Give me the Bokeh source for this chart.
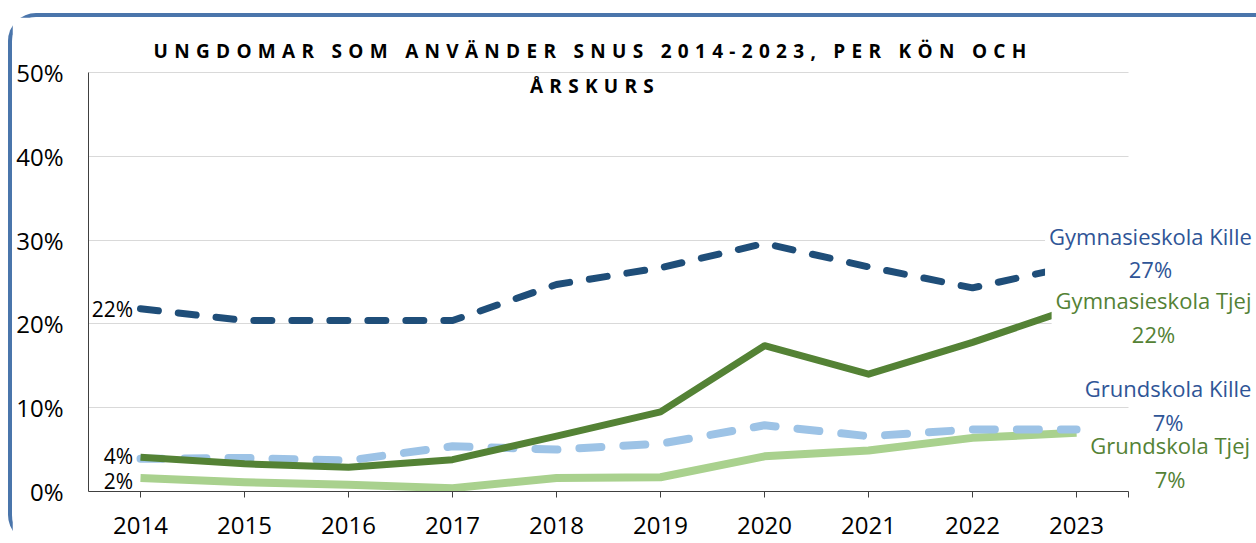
from bokeh.plotting import figure
from bokeh.embed import file_html
from bokeh.resources import INLINE
from bokeh.layouts import column
from bokeh.models import Range1d, FixedTicker, PrintfTickFormatter, Label, BoxAnnotation

years = ["2014", "2015", "2016", "2017", "2018", "2019", "2020", "2021", "2022", "2023"]
gym_kille = [21.8, 20.4, 20.4, 20.4, 24.7, 26.7, 29.6, 26.8, 24.3, 27.0]
gym_tjej = [4.1, 3.3, 2.9, 3.8, 6.6, 9.5, 17.4, 14.0, 17.8, 22.0]
grund_kille = [3.9, 4.0, 3.7, 5.4, 5.0, 5.7, 7.9, 6.6, 7.4, 7.4]
grund_tjej = [1.6, 1.1, 0.8, 0.4, 1.6, 1.7, 4.2, 4.9, 6.4, 7.0]
y_ticks = [0, 10, 20, 30, 40, 50]
title_lines = ["UNGDOMAR SOM ANVÄNDER SNUS 2014-2023, PER KÖN OCH", "ÅRSKURS"]

xs = list(range(len(years)))
FONT = "Open Sans"
W, H = 1244, 526

p = figure(width=W, height=H, x_range=Range1d(-0.5, 10.73), y_range=Range1d(0, 56.56),
           output_backend="svg", toolbar_location=None,
           min_border_left=76, min_border_right=0, min_border_top=0, min_border_bottom=52)
p.outline_line_color = None
p.background_fill_color = "white"
p.border_fill_color = "white"

# axes
p.xaxis.ticker = FixedTicker(ticks=xs + [9.5])
p.xaxis.major_label_overrides = {**{i: y for i, y in enumerate(years)}, 9.5: ""}
p.xaxis.bounds = (-0.5, 9.5)
p.xaxis.major_label_text_font = FONT
p.xaxis.major_label_text_font_size = "24px"
p.xaxis.major_label_text_color = "black"
p.xaxis.major_tick_out = 6
p.xaxis.major_tick_in = 0
p.xaxis.minor_tick_line_color = None
p.xaxis.major_label_standoff = 19
p.xaxis.axis_line_color = "#404040"
p.xaxis.major_tick_line_color = "#404040"

p.yaxis.ticker = FixedTicker(ticks=y_ticks)
p.yaxis.formatter = PrintfTickFormatter(format="%d%%")
p.yaxis.bounds = (0, 50)
p.yaxis.major_label_text_font = FONT
p.yaxis.major_label_text_font_size = "24px"
p.yaxis.major_label_text_color = "black"
p.yaxis.major_tick_out = 0
p.yaxis.major_tick_in = 0
p.yaxis.minor_tick_line_color = None
p.yaxis.major_label_standoff = 25
p.yaxis.axis_line_color = "#404040"

p.xgrid.grid_line_color = None
p.ygrid.grid_line_color = "#d9d9d9"
p.ygrid.grid_line_width = 1
try:
    p.ygrid.cross_bounds = (-0.5, 9.5)
except Exception:
    p.add_layout(BoxAnnotation(left=9.5, fill_color="white", fill_alpha=1.0,
                               line_color=None, level="underlay"))

# lines
p.line(xs, grund_tjej, line_color="#a9d18e", line_width=8, line_join="round")
p.line(xs, grund_kille, line_color="#9dc3e6", line_width=8, line_dash="22 22", line_cap="round", line_join="round")
p.line(xs, gym_tjej, line_color="#548235", line_width=7, line_join="round")
p.line(xs, gym_kille, line_color="#1f4e79", line_width=7, line_dash="18 20", line_cap="round", line_join="round")

# start labels
for txt, yv in [("22%", 21.8), ("4%", 4.2), ("2%", 1.3)]:
    p.add_layout(Label(x=-0.07, y=yv, text=txt, text_align="right", text_baseline="middle",
                       text_font=FONT, text_font_size="21px", text_color="black"))

# end labels
end_labels = [
    ("Gymnasieskola Kille\n27%", 9.71, 28.5, "#2f5597", "white"),
    ("Gymnasieskola Tjej\n22%", 9.74, 20.8, "#548235", "white"),
    ("Grundskola Kille\n7%", 9.88, 10.3, "#2f5597", None),
    ("Grundskola Tjej\n7%", 9.9, 3.5, "#548235", None),
]
for txt, xv, yv, col, bg in end_labels:
    p.add_layout(Label(x=xv, y=yv, text=txt, text_align="center", text_baseline="middle",
                       text_font=FONT, text_font_size="22px", text_color=col,
                       text_line_height=1.12, background_fill_color=bg,
                       background_fill_alpha=1.0, padding=4))

# title (separate transparent overlay figure so letter spacing applies only to it)
t = figure(width=W, height=100, x_range=Range1d(0, W), y_range=Range1d(0, 100),
           output_backend="svg", toolbar_location=None, x_axis_type=None, y_axis_type=None,
           min_border=0, min_border_left=0, min_border_right=0, min_border_top=0, min_border_bottom=0)
t.grid.visible = False
t.outline_line_color = None
t.background_fill_alpha = 0
t.border_fill_alpha = 0
t.styles = {"position": "absolute", "top": "0px", "left": "0px",
            "letter-spacing": "6.3px", "pointer-events": "none"}
for txt, xv, yv in [(title_lines[0], 373, 67), (title_lines[1], 516, 32)]:
    t.add_layout(Label(x=xv, y=yv, text=txt, text_align="center", text_baseline="middle",
                       text_font=FONT, text_font_size="19px", text_font_style="bold",
                       text_color="black"))

layout = column(p, t, styles={"margin-left": "8px", "margin-top": "13px",
                              "border-left": "4px solid #4a75ab", "border-top": "4px solid #4a75ab",
                              "border-top-left-radius": "28px", "border-bottom-left-radius": "28px",
                              "position": "relative"})

open("out.html", "w").write(file_html(layout, INLINE))
